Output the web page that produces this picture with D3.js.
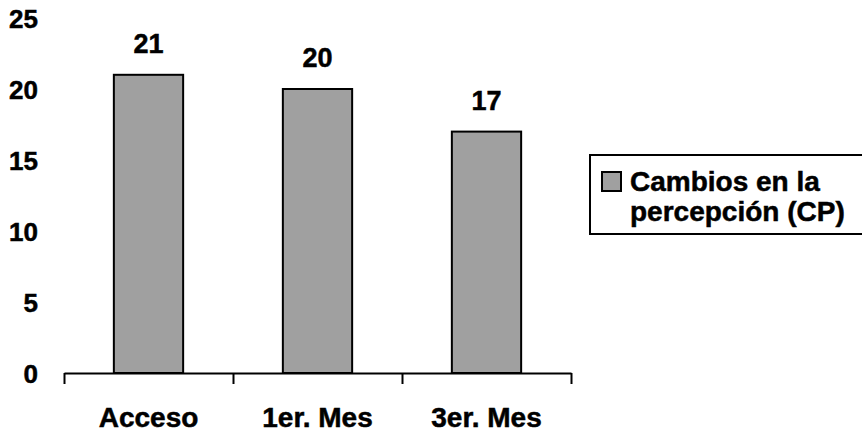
<!DOCTYPE html>
<html><head><meta charset="utf-8">
<script src="https://cdn.jsdelivr.net/npm/d3@7"></script>
<style>body{margin:0;background:#fff}svg{display:block}text{font-family:"Liberation Sans",Arial,sans-serif;font-weight:bold;fill:#000;stroke:#000;stroke-width:0.5px}</style>
</head><body>
<script>
const categories = ["Acceso", "1er. Mes", "3er. Mes"];
const values = [21, 20, 17];
const yTicks = [0, 5, 10, 15, 20, 25];
const seriesName = ["Cambios en la", "percepción (CP)"];

const W = 862, H = 433;
const svg = d3.select("body").append("svg").attr("width", W).attr("height", H);

const x0 = 64, x1 = 571, yBase = 373, yTop = 18;
const x = d3.scaleBand().domain(categories).range([x0, x1]).padding(0);
const y = d3.scaleLinear().domain([0, 25]).range([yBase, yTop]);
const barW = x.bandwidth() * 0.41;

// y tick labels (no axis line)
const yAx = svg.append("g").attr("transform", `translate(${x0},0)`)
  .call(d3.axisLeft(y).tickValues(yTicks).tickSize(0).tickPadding(26));
yAx.select(".domain").remove();
yAx.attr("font-family", null).attr("font-size", null);
yAx.selectAll("text").style("font-size", "26px").attr("dy", "0.36em");

// bars
svg.selectAll("rect.bar").data(values).enter().append("rect")
  .attr("class", "bar")
  .attr("x", (d, i) => x(categories[i]) + (x.bandwidth() - barW) / 2)
  .attr("y", d => y(d))
  .attr("width", barW)
  .attr("height", d => y(0) - y(d))
  .attr("fill", "#a0a0a0").attr("stroke", "#000").attr("stroke-width", 2);

// data labels
svg.selectAll("text.val").data(values).enter().append("text")
  .attr("class", "val")
  .attr("x", (d, i) => x(categories[i]) + x.bandwidth() / 2)
  .attr("y", d => y(d) - 22)
  .attr("text-anchor", "middle")
  .style("font-size", "27px")
  .text(d => d);

// x axis baseline with boundary ticks
const xl = d3.scaleLinear().domain([0, categories.length]).range([x0, x1]);
const xAx = svg.append("g").attr("transform", `translate(0,${yBase})`)
  .call(d3.axisBottom(xl).tickValues(d3.range(categories.length + 1)).tickSize(11).tickSizeOuter(0).tickFormat(""));
xAx.select(".domain").attr("stroke-width", 2);
xAx.selectAll(".tick line").attr("stroke-width", 2);

// category labels
const xc = svg.append("g").attr("transform", `translate(0,${yBase})`)
  .call(d3.axisBottom(x).tickSize(0).tickPadding(34));
xc.select(".domain").remove();
xc.attr("font-family", null).attr("font-size", null);
xc.selectAll("text").style("font-size", "28px");

// legend
const lg = svg.append("g");
lg.append("rect").attr("x", 590).attr("y", 155).attr("width", 290).attr("height", 79)
  .attr("fill", "#fff").attr("stroke", "#000").attr("stroke-width", 2);
lg.append("rect").attr("x", 602).attr("y", 172).attr("width", 19).attr("height", 19)
  .attr("fill", "#a0a0a0").attr("stroke", "#000").attr("stroke-width", 2);
lg.selectAll("text.lg").data(seriesName).enter().append("text")
  .attr("class", "lg")
  .attr("x", 630).attr("y", (d, i) => 191 + i * 30)
  .style("font-size", "28px")
  .text(d => d);
</script>
</body></html>
